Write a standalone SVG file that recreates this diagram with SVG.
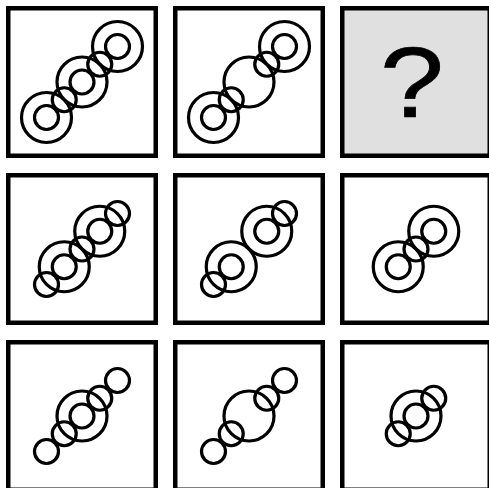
<svg xmlns="http://www.w3.org/2000/svg" width="489" height="488" viewBox="0 0 489 488">
<style>
.box{fill:#ffffff;stroke:#000;stroke-width:4.5}
.q{fill:#e0e0e0;stroke:#000;stroke-width:4.5}
.c{fill:none;stroke:#000;stroke-width:3.2}
.qm{font-family:"Liberation Sans",Arial,sans-serif;font-size:100px;fill:#000;stroke:#000;stroke-width:0.7}
</style>
<defs>
<g id="ring"><circle class="c" r="25"/><circle class="c" r="12"/></g>
<circle id="big" class="c" r="25"/>
<circle id="sm" class="c" r="12"/>
</defs>
<rect width="489" height="488" fill="#fff"/>
<g id="cell-r1c1" transform="translate(0,0)">
<rect class="box" x="8.25" y="8.25" width="147.5" height="147.5"/>
<use href="#ring" x="46.5" y="117.5"/><use href="#ring" x="82" y="82"/><use href="#ring" x="117.5" y="46.5"/>
<use href="#sm" x="64.25" y="99.75"/><use href="#sm" x="99.75" y="64.25"/>
</g>
<g id="cell-r1c2" transform="translate(167,0)">
<rect class="box" x="8.25" y="8.25" width="147.5" height="147.5"/>
<use href="#ring" x="46.5" y="117.5"/><use href="#big" x="82" y="82"/><use href="#ring" x="117.5" y="46.5"/>
<use href="#sm" x="64.25" y="99.75"/><use href="#sm" x="99.75" y="64.25"/>
</g>
<g id="cell-r1c3" transform="translate(334,0)">
<rect class="q" x="8.25" y="8.25" width="147.5" height="147.5"/>
<text class="qm" transform="translate(78,117) scale(1.15,1)" x="0" y="0" text-anchor="middle">?</text>
</g>
<g id="cell-r2c1" transform="translate(0,167)">
<rect class="box" x="8.25" y="8.25" width="147.5" height="147.5"/>
<use href="#ring" x="64.25" y="99.75"/><use href="#ring" x="99.75" y="64.25"/>
<use href="#sm" x="46.5" y="117.5"/><use href="#sm" x="82" y="82"/><use href="#sm" x="117.5" y="46.5"/>
</g>
<g id="cell-r2c2" transform="translate(167,167)">
<rect class="box" x="8.25" y="8.25" width="147.5" height="147.5"/>
<use href="#ring" x="64.25" y="99.75"/><use href="#ring" x="99.75" y="64.25"/>
<use href="#sm" x="46.5" y="117.5"/><use href="#sm" x="117.5" y="46.5"/>
</g>
<g id="cell-r2c3" transform="translate(334,167)">
<rect class="box" x="8.25" y="8.25" width="147.5" height="147.5"/>
<use href="#ring" x="64.25" y="99.75"/><use href="#ring" x="99.75" y="64.25"/>
<use href="#sm" x="82" y="82"/>
</g>
<g id="cell-r3c1" transform="translate(0,334)">
<rect class="box" x="8.25" y="8.25" width="147.5" height="147.5"/>
<use href="#ring" x="82" y="82"/>
<use href="#sm" x="46.5" y="117.5"/><use href="#sm" x="64.25" y="99.75"/><use href="#sm" x="99.75" y="64.25"/><use href="#sm" x="117.5" y="46.5"/>
</g>
<g id="cell-r3c2" transform="translate(167,334)">
<rect class="box" x="8.25" y="8.25" width="147.5" height="147.5"/>
<use href="#big" x="82" y="82"/>
<use href="#sm" x="46.5" y="117.5"/><use href="#sm" x="64.25" y="99.75"/><use href="#sm" x="99.75" y="64.25"/><use href="#sm" x="117.5" y="46.5"/>
</g>
<g id="cell-r3c3" transform="translate(334,334)">
<rect class="box" x="8.25" y="8.25" width="147.5" height="147.5"/>
<use href="#ring" x="82" y="82"/>
<use href="#sm" x="64.25" y="99.75"/><use href="#sm" x="99.75" y="64.25"/>
</g>
<g id="connectors"/>
</svg>
